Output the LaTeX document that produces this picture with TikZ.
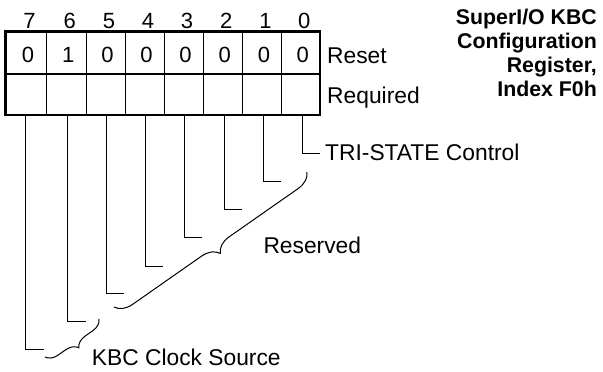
\documentclass[tikz,border=0pt]{standalone}
\usepackage{fontspec}
\setmainfont{Liberation Sans}
\usetikzlibrary{decorations.pathreplacing}
\begin{document}
\begin{tikzpicture}[x=1pt,y=-1pt,
  lbl/.style={font=\fontsize{22.8}{26}\selectfont, inner sep=0, anchor=base west},
  digit/.style={font=\fontsize{22}{25}\selectfont, inner sep=0, anchor=base},
  ttl/.style={font=\fontsize{21.3}{24}\selectfont\bfseries, inner sep=0, anchor=base east},
  frame/.style={line width=2.6pt},
  cellline/.style={line width=1pt},
  leader/.style={line width=1pt},
  bracedeco/.style={line width=1pt, decorate, decoration={brace, amplitude=#1}}]
\useasboundingbox (0,0) rectangle (603,372);
% register frame
\draw[frame] (5.5,31.7) rectangle (320,115);
\draw[frame] (5.5,74) -- (320,74);
\foreach \x in {46.5,86,125,164,203,242.5,281.5}
  \draw[cellline] (\x,31.7) -- (\x,115);
% bit numbers and reset values
\foreach \c/\bit/\val [count=\i] in {26/7/0,66.25/6/1,105.5/5/0,144.5/4/0,183.5/3/0,222.75/2/0,262/1/0,300.75/0/0}{
  \node[digit] (n\bit) at (\c+3.5,28) {\bit};
  \node[digit] (v\bit) at (\c+2,62.3) {\val};
}
% side labels
\node[lbl] (reset) at (327,63) {Reset};
\node[lbl] (req) at (327,103) {Required};
% title
\node[ttl] (t1) at (597,24) {SuperI/O KBC};
\node[ttl] (t2) at (597,48.3) {Configuration};
\node[ttl] (t3) at (597,72.3) {Register,};
\node[ttl] (t4) at (597,96.7) {Index F0h};
% leader lines
\foreach \x/\y/\bit in {25.7/349/7,67.7/321/6,106/293/5,145/266/4,184/237/3,224/209/2,263/181/1,302/153/0}{
  \coordinate (s\bit) at (\x,115);
  \coordinate (c\bit) at (\x,\y);
  \coordinate (e\bit) at (\x+18,\y);
  \draw[leader] (s\bit) -- (c\bit) -- (e\bit);
}
\node[lbl] (tri) at (325,160.7) {TRI-STATE Control};
% braces
\coordinate (rb1) at (307,172);
\coordinate (rb2) at (114,307);
\draw[bracedeco=17pt] (rb1) -- (rb2);
\node[lbl] (res) at (263.3,253.3) {Reserved};
\coordinate (kb1) at (99,319);
\coordinate (kb2) at (45,357);
\draw[bracedeco=12pt] (kb1) -- (kb2);
\node[lbl] (kbc) at (91.7,365.8) {KBC Clock Source};
\end{tikzpicture}
\end{document}
